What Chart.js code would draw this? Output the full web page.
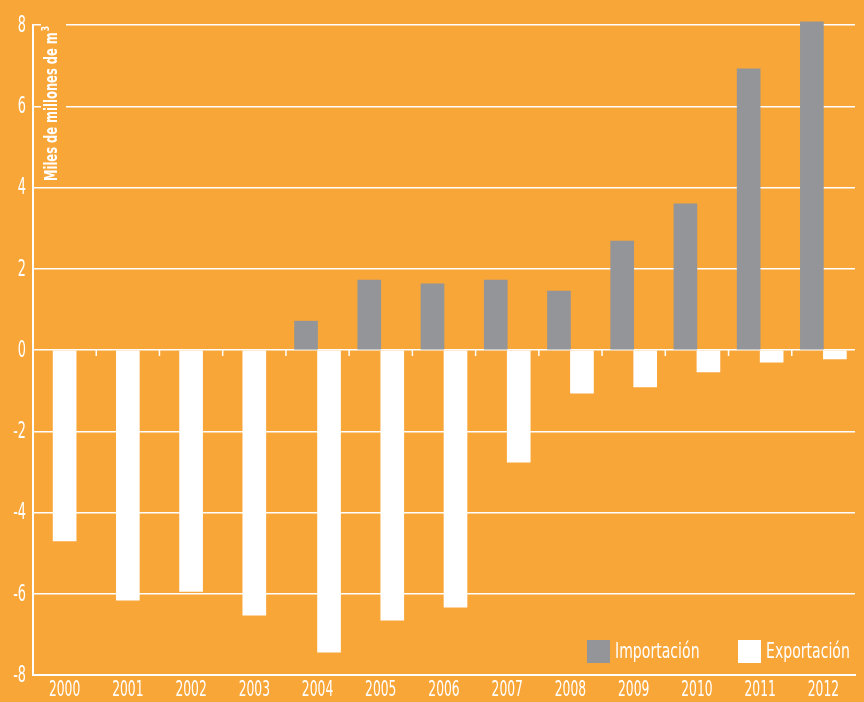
<!DOCTYPE html>
<html>
<head>
<meta charset="utf-8">
<script src="https://cdn.jsdelivr.net/npm/chart.js@4"></script>
<style>
  html, body { margin: 0; padding: 0; background: #F9A638; }
  #wrap { width: 864px; height: 702px; }
</style>
</head>
<body>
<div id="wrap"><canvas id="gasChart" width="864" height="702"></canvas></div>
<script>
const years = ['2000', '2001', '2002', '2003', '2004', '2005', '2006', '2007', '2008', '2009', '2010', '2011', '2012'];
const importacion = [null, null, null, null, 0.71, 1.72, 1.63, 1.72, 1.45, 2.68, 3.6, 6.92, 8.08];
const exportacion = [-4.7, -6.16, -5.94, -6.53, -7.44, -6.65, -6.33, -2.76, -1.06, -0.91, -0.54, -0.3, -0.22];
const yTicks = [-8, -6, -4, -2, 0, 2, 4, 6, 8];

const ORANGE = '#F9A638';
const GREY = '#939598';
const WHITE = '#FFFFFF';
const FONT = '"DejaVu Sans", sans-serif';

// schmale Schrift simulieren: horizontal stauchen
function narrowText(ctx, text, x, y, sx, align) {
    const w = ctx.measureText(text).width * sx;
    let left = x;
    if (align === 'center') left = x - w / 2;
    if (align === 'right') left = x - w;
    ctx.save();
    ctx.translate(left, y);
    ctx.scale(sx, 1);
    ctx.textAlign = 'left';
    ctx.fillText(text, 0, 0);
    ctx.restore();
}

const extrasPlugin = {
    id: 'extras',
    beforeDatasetsDraw(chart) {
        const ctx = chart.ctx;
        const x = chart.scales.x;
        const y = chart.scales.y;
        const y0 = y.getPixelForValue(0);
        ctx.save();
        // kleine Striche an der Nulllinie
        ctx.strokeStyle = WHITE;
        ctx.lineWidth = 1.5;
        for (let i = 0; i < years.length - 1; i++) {
            const px = (x.getPixelForValue(i) + x.getPixelForValue(i + 1)) / 2;
            ctx.beginPath();
            ctx.moveTo(px, y0);
            ctx.lineTo(px, y0 + 6);
            ctx.stroke();
        }
        // Achsenbeschriftungen
        ctx.fillStyle = WHITE;
        ctx.textBaseline = 'middle';
        ctx.font = '23px ' + FONT;
        y.ticks.forEach((t, i) => {
            narrowText(ctx, String(t.value), 26, y.getPixelForTick(i) + 1, 0.56, 'right');
        });
        ctx.font = '22px ' + FONT;
        x.ticks.forEach((t, i) => {
            narrowText(ctx, years[i], x.getPixelForTick(i), 690, 0.56, 'center');
        });
        // Titel der Y-Achse mit Hintergrund
        ctx.fillStyle = ORANGE;
        ctx.fillRect(41, 18, 25, 168);
        ctx.translate(52, 181);
        ctx.rotate(-Math.PI / 2);
        ctx.fillStyle = WHITE;
        ctx.font = 'bold 18px ' + FONT;
        ctx.textBaseline = 'middle';
        const main = 'Miles de millones de m';
        narrowText(ctx, main, 0, 0, 0.64, 'left');
        const w = ctx.measureText(main).width * 0.64;
        ctx.font = 'bold 11px ' + FONT;
        narrowText(ctx, '3', w + 1, -6, 0.7, 'left');
        ctx.restore();
    },
    afterDraw(chart) {
        const ctx = chart.ctx;
        const items = [
            { x: 587, label: chart.data.datasets[0].label, color: chart.data.datasets[0].backgroundColor },
            { x: 738, label: chart.data.datasets[1].label, color: chart.data.datasets[1].backgroundColor }
        ];
        ctx.save();
        ctx.font = '22px ' + FONT;
        ctx.textBaseline = 'middle';
        items.forEach(it => {
            ctx.fillStyle = it.color;
            ctx.fillRect(it.x, 640, 23, 23);
            ctx.fillStyle = WHITE;
            narrowText(ctx, it.label, it.x + 28, 652, 0.64, 'left');
        });
        ctx.restore();
    }
};

const ctx = document.getElementById('gasChart').getContext('2d');
new Chart(ctx, {
    type: 'bar',
    data: {
        labels: years,
        datasets: [{
            label: 'Importación',
            data: importacion,
            backgroundColor: GREY,
            borderWidth: 0,
            clip: false
        }, {
            label: 'Exportación',
            data: exportacion,
            backgroundColor: WHITE,
            borderWidth: 0,
            clip: false
        }]
    },
    options: {
        responsive: false,
        animation: false,
        skipNull: true,
        barThickness: 23,
        layout: {
            padding: { left: 0, right: 9, top: 25, bottom: 0 }
        },
        scales: {
            x: {
                grid: { display: false, drawTicks: false },
                border: { display: true, color: WHITE, width: 2 },
                ticks: { display: false, autoSkip: false },
                afterFit(scale) { scale.height = 27; }
            },
            y: {
                min: -8,
                max: 8,
                afterBuildTicks(scale) { scale.ticks = yTicks.map(v => ({ value: v })); },
                grid: { color: WHITE, lineWidth: 1.5, drawTicks: false },
                border: { display: true, color: WHITE, width: 2 },
                ticks: { display: false },
                afterFit(scale) { scale.width = 33; }
            }
        },
        plugins: {
            legend: { display: false },
            tooltip: { enabled: false }
        }
    },
    plugins: [extrasPlugin]
});
</script>
</body>
</html>
